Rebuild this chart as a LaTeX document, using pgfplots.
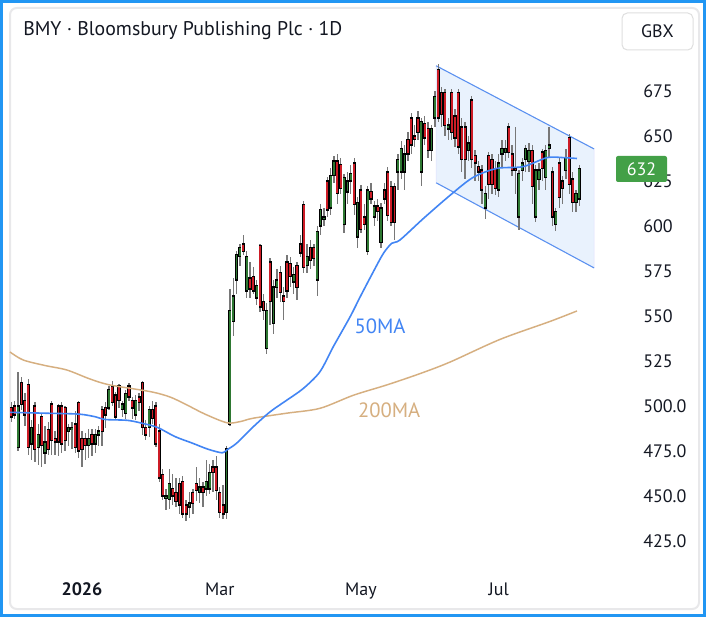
\documentclass[border=0pt]{standalone}
\usepackage{fontspec}
\setmainfont{PT Sans}
\usepackage{pgfplots}
\pgfplotsset{compat=1.18}
\usepackage{pgfplotstable}
\definecolor{tvblue}{RGB}{33,150,243}
\definecolor{framegray}{RGB}{232,232,234}
\definecolor{txt}{RGB}{19,23,34}
\definecolor{upc}{RGB}{46,120,50}
\definecolor{dnc}{RGB}{205,28,38}
\definecolor{wick}{RGB}{120,120,120}
\definecolor{ma50}{RGB}{66,133,244}
\definecolor{ma200}{RGB}{214,175,128}
\definecolor{chfill}{RGB}{233,242,253}
\definecolor{chline}{RGB}{90,145,240}
\definecolor{pricegreen}{RGB}{67,160,71}

\pgfplotstableread{
i o h l c
0 499 502 491 494
1 500 503 493 495
2 477 519 475 500
3 513 516 498 501
4 503 507 489 495
5 512 515 473 477
6 479 492 470 488
7 500 502 469 476
8 477 490 467 484
9 494 496 466 478
10 474 489 468 480
11 487 491 473 476
12 501 503 473 481
13 482 486 473 480
14 500 501 472 480
15 500 502 474 479
16 499 500 475 481
17 486 490 478 488
18 487 491 476 488
19 490 497 474 477
20 502 503 471 475
21 482 486 466 476
22 482 485 470 478
23 478 487 471 482
24 484 487 472 479
25 479 487 474 484
26 484 489 478 486
27 498 500 478 486
28 499 502 488 495
29 499 511 498 509
30 511 514 500 502
31 506 508 492 494
32 511 512 499 503
33 498 503 494 501
34 496 509 493 507
35 511 513 503 505
36 503 505 493 499
37 495 506 492 503
38 505 507 497 502
39 513 514 484 488
40 488 492 481 484
41 488 500 483 498
42 498 503 490 493
43 500 502 477 479
44 486 490 458 460
45 462 465 448 450
46 449 454 442 450
47 448 465 443 457
48 454 462 445 450
49 452 460 444 447
50 457 460 440 445
51 458 461 438 440
52 445 448 436 440
53 444 452 438 446
54 452 454 440 446
55 457 466 447 453
56 452 460 446 455
57 455 458 444 452
58 454 470 450 458
59 454 468 451 463
60 466 470 452 463
61 466 472 448 453
62 452 455 438 441
63 445 456 437 440
64 441 478 437 476
65 490 565 489 553
66 547 571 539 561
67 570 586 562 584
68 583 590 578 588
69 590 595 584 586
70 564 586 560 583
71 571 580 560 565
72 572 577 562 564
73 560 570 556 567
74 589 590 552 555
75 558 562 548 553
76 532 557 529 553
77 580 582 545 558
78 546 570 540 566
79 566 576 560 570
80 574 578 558 563
81 561 566 548 558
82 580 584 560 564
83 579 583 566 572
84 569 577 562 573
85 578 580 559 566
86 590 595 583 585
87 612 614 574 577
88 578 590 574 583
89 588 592 576 581
90 588 590 578 582
91 570 600 561 597
92 600 612 595 609
93 604 610 600 605
94 625 627 605 609
95 610 632 606 628
96 628 639 624 636
97 636 640 612 618
98 634 638 618 621
99 601 629 596 627
100 619 630 612 625
101 625 634 618 629
102 635 638 606 612
103 594 616 588 613
104 620 623 596 598
105 605 612 598 601
106 586 622 584 620
107 619 624 612 615
108 605 614 600 611
109 611 615 603 608
110 591 613 588 610
111 620 624 612 615
112 630 633 603 606
113 622 625 600 602
114 622 624 592 602
115 630 640 620 637
116 630 647 626 643
117 630 645 620 640
118 648 652 636 640
119 660 663 640 645
120 650 656 644 648
121 660 664 648 652
122 630 660 622 658
123 657 661 645 649
124 654 658 638 642
125 642 656 636 654
126 660 675 655 672
127 687 690 658 660
128 674 677 655 662
129 674 676 650 656
130 654 660 648 656
131 674 676 648 652
132 661 665 644 649
133 674 676 640 644
134 655 660 630 637
135 655 658 626 637
136 642 650 636 646
137 670 672 632 637
138 639 642 625 635
139 633 636 625 630
140 631 634 612 620
141 610 622 604 618
142 639 641 615 623
143 637 640 618 623
144 632 636 617 621
145 620 640 616 635
146 640 648 633 643
147 641 648 636 643
148 655 657 638 641
149 640 645 628 631
150 632 655 618 631
151 605 631 598 629
152 631 638 625 635
153 637 645 630 643
154 636 646 630 642
155 642 645 612 622
156 605 634 602 631
157 626 635 620 631
158 641 643 625 632
159 627 645 620 642
160 643 655 638 645
161 630 633 600 605
162 601 610 597 608
163 635 638 610 616
164 625 628 612 621
165 631 643 626 638
166 649 651 618 623
167 626 630 608 613
168 613 620 608 618
169 615 634 611 632
}\ohlc

\pgfplotsset{
  candle/.style={draw=none, mark=none, forget plot,
    error bars/y dir=both, error bars/y explicit, error bars/error mark=none},
}

\begin{document}
\begin{tikzpicture}
\useasboundingbox (0,0) rectangle (529.5pt,462.75pt);
\fill[white] (0,0) rectangle (529.5pt,462.75pt);
\draw[framegray, line width=1.5pt, rounded corners=5pt] (7.5pt,6pt) rectangle (524.25pt,456.75pt);
\draw[tvblue, line width=2.25pt] (1.125pt,1.125pt) rectangle (528.375pt,461.625pt);

\begin{axis}[
  at={(6pt,39pt)}, anchor=south west,
  scale only axis, width=459pt, height=390pt,
  xmin=-1.01, xmax=181.1, ymin=411.67, ymax=700.56,
  axis line style={draw=none}, tick style={draw=none},
  ytick={425,450,...,675},
  yticklabels={425.0,450.0,475.0,500.0,525,550,575,600,625,650,675},
  ytick pos=right, yticklabel pos=right,
  yticklabel style={anchor=west, inner sep=0pt, xshift=17.25pt, font=\fontsize{13.5}{14}\selectfont, text=txt},
  xtick={21,62,104,145},
  xticklabels={\textbf{2026},Mar,May,Jul},
  xticklabel style={anchor=base, yshift=-23.25pt, font=\fontsize{13.5}{14}\selectfont, text=txt},
]
% channel
\addplot[fill=chfill, draw=blue!12, forget plot] coordinates {(126.4,689) (173.4,642.8) (173.4,576.7) (126.4,624)} -- cycle;
\addplot[chline, line width=0.8pt, forget plot] coordinates {(126.4,689) (173.4,642.8)};
\addplot[chline, line width=0.8pt, forget plot] coordinates {(126.4,624) (173.4,576.7)};
% wicks
\addplot[candle, error bars/error bar style={line width=1.0pt, draw=wick, line cap=butt}]
  table[x=i, y expr={(\thisrow{h}+\thisrow{l})/2}, y error expr={(\thisrow{h}-\thisrow{l})/2}] {\ohlc};
% body outlines
\addplot[candle, error bars/error bar style={line width=2.35pt, draw=black, line cap=butt}]
  table[x=i, y expr={(\thisrow{o}+\thisrow{c})/2}, y error expr={abs(\thisrow{c}-\thisrow{o})/2+0.45}] {\ohlc};
% up bodies
\addplot[candle, restrict expr to domain={\thisrow{c}-\thisrow{o}}{0:1000},
  error bars/error bar style={line width=1.35pt, draw=upc, line cap=butt}]
  table[x=i, y expr={(\thisrow{o}+\thisrow{c})/2}, y error expr={max(abs(\thisrow{c}-\thisrow{o})/2-0.35,0)}] {\ohlc};
% down bodies
\addplot[candle, restrict expr to domain={\thisrow{c}-\thisrow{o}}{-1000:-0.01},
  error bars/error bar style={line width=1.35pt, draw=dnc, line cap=butt}]
  table[x=i, y expr={(\thisrow{o}+\thisrow{c})/2}, y error expr={max(abs(\thisrow{c}-\thisrow{o})/2-0.35,0)}] {\ohlc};
% 200MA
\addplot[ma200, line width=1.1pt, smooth, tension=0.5] coordinates {
(-0.4,530) (3.45,525.6) (10,522.5) (16.5,520) (23.4,515) (29.3,511.7) (41.3,508)
(47.2,505) (52.2,500.6) (57.6,495.5) (64.1,490.7) (68,491.3) (71.9,493.2)
(81.9,496) (91.8,498.7) (101.8,506) (111.7,511.7) (121.6,518) (130.5,524.4)
(145.4,537) (160.3,547) (168.3,552.8)};
% 50MA
\addplot[ma50, line width=1.2pt, smooth, tension=0.5] coordinates {
(-0.4,496.5) (10,496) (20,495.5) (25,494) (28,492.5) (34.7,492) (39.8,490)
(43.6,488) (48.7,483) (53.8,479.4) (58.5,476) (62.7,474) (64.1,475.6)
(67,479.3) (72,488.5) (77,496.8) (82,503.3) (86.9,509.8) (91.8,519)
(95.8,533) (100.8,549.6) (103.8,560.7) (107.7,574.6) (110.7,584.8)
(113.2,590.4) (115.6,592.2) (122.5,604) (130.5,617) (137.4,627)
(144.5,632) (152.3,633) (159.4,638) (164.2,638) (168.3,637.5)};
\node[text=ma50, font=\fontsize{15.5}{16}\selectfont] at (axis cs:109.7,544.4) {50MA};
\node[text=ma200, font=\fontsize{15.5}{16}\selectfont] at (axis cs:112.4,497.8) {200MA};
\end{axis}

% title
\node[anchor=base west, inner sep=0pt, text=txt, font=\fontsize{14.85}{16}\selectfont] at (17.25pt,435.75pt) {BMY · Bloomsbury Publishing Plc · 1D};
% GBX box
\draw[gray!25, rounded corners=4pt, line width=0.75pt] (466.5pt,425.25pt) rectangle (519.75pt,453pt);
\node[text=txt, font=\fontsize{13.5}{14}\selectfont] at (493.1pt,439.1pt) {GBX};
% last price label
\fill[pricegreen, rounded corners=1.5pt] (462pt,326.25pt) rectangle (500.25pt,345.75pt);
\node[text=white, font=\fontsize{13.5}{14}\selectfont] at (481.1pt,336pt) {632};
\end{tikzpicture}
\end{document}
